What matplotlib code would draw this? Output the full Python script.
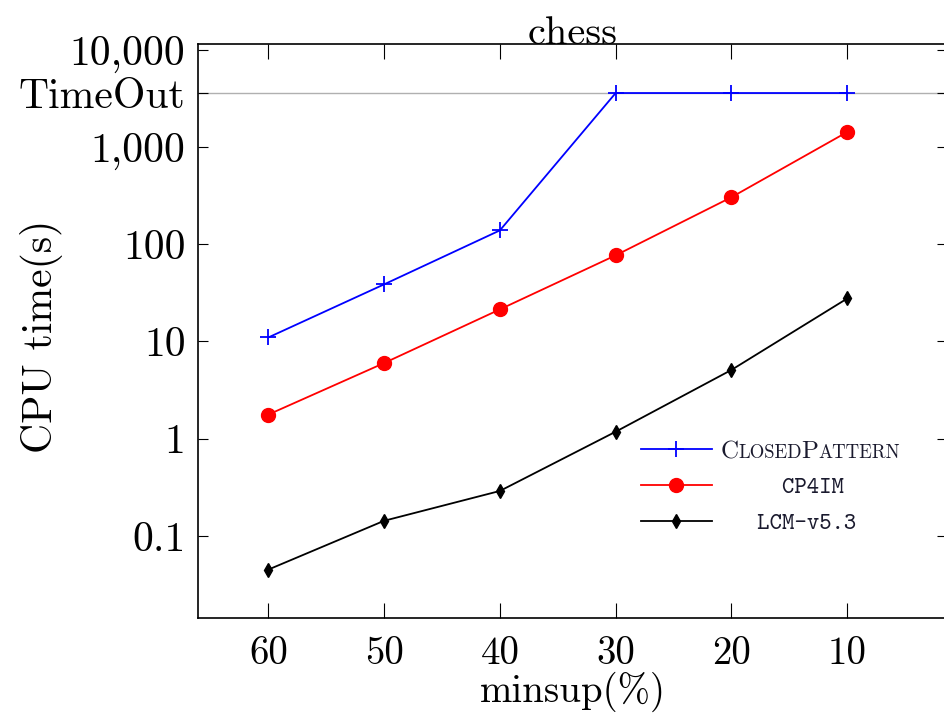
import matplotlib
matplotlib.use("Agg")
import matplotlib.pyplot as plt
from matplotlib.ticker import FixedLocator, FixedFormatter, NullLocator
from matplotlib.offsetbox import TextArea, HPacker, AnnotationBbox

minsup = [60, 50, 40, 30, 20, 10]
closed_pattern = [11, 38.7, 139, 3600, 3600, 3600]
cp4im = [1.77, 6.0, 21.4, 77, 305, 1430]
lcm = [0.045, 0.143, 0.29, 1.18, 5.1, 27.7]
timeout = 3600
ytick_vals = [0.1, 1, 10, 100, 1000, 3600, 10000]
ytick_labels = ["0.1", "1", "10", "100", "1,000", "TimeOut", "10,000"]
xtick_vals = [60, 50, 40, 30, 20, 10]
# small-caps pieces for the ClosedPattern label: (text, is_capital)
closed_label_parts = [("C", True), ("LOSED", False), ("P", True), ("ATTERN", False)]

plt.rcParams['font.family'] = ['cmr10', 'DejaVu Serif']
plt.rcParams['mathtext.fontset'] = 'cm'
plt.rcParams['axes.unicode_minus'] = False

fig = plt.figure(figsize=(9.44, 7.22), dpi=100)
ax = fig.add_axes([198/944, 1 - 618/722, (944 - 198)/944 + 0.003, (618 - 44)/722])

ax.axhline(timeout, color='#b0b0b0', lw=1.0, zorder=1)
ax.plot(minsup, closed_pattern, color='blue', lw=1.3, marker='+', ms=11, mew=1.3,
        label=' ' * 14, zorder=3)
ax.plot(minsup, cp4im, color='red', lw=1.3, marker='o', ms=10,
        label='     CP4IM', zorder=3)
ax.plot(minsup, lcm, color='black', lw=1.3, marker='d', ms=7,
        label='   LCM-v5.3', zorder=3)

ax.set_yscale('log')
ax.set_ylim(0.0143, 11500)
ax.set_xlim(66.07, 1.4)
ax.yaxis.set_major_locator(FixedLocator(ytick_vals))
ax.yaxis.set_major_formatter(FixedFormatter(ytick_labels))
ax.yaxis.set_minor_locator(NullLocator())
ax.set_xticks(xtick_vals)
ax.set_xticklabels([str(v) for v in xtick_vals])

ax.tick_params(axis='x', direction='in', length=11, width=0.8, top=True, labelsize=28, pad=13)
ax.tick_params(axis='y', direction='in', length=7, width=0.8, right=True, labelsize=30, pad=9)
for s in ax.spines.values():
    s.set_linewidth(1.2)

ax.set_title('chess', fontsize=29, pad=0)
ax.set_xlabel('minsup(%)', fontsize=28, labelpad=0)
ax.set_ylabel('CPU time(s)', fontsize=30)
ax.yaxis.set_label_coords(-0.18, 0.49)

leg = ax.legend(loc='lower right', bbox_to_anchor=(0.957, 0.107), frameon=False,
                handlelength=3.0, handletextpad=0.35, labelspacing=0.58,
                prop={'family': ['cmtt10', 'DejaVu Sans Mono'], 'size': 17})
for t in leg.get_texts():
    t.set_color('#1a1a2e')

fig.canvas.draw()
renderer = fig.canvas.get_renderer()
bb = leg.get_texts()[0].get_window_extent(renderer)
areas = [TextArea(txt, textprops=dict(family='cmr10', size=18 if cap else 13.5, color='#1a1a2e'))
         for txt, cap in closed_label_parts]
packer = HPacker(children=areas, align='baseline', pad=0, sep=0)
ab = AnnotationBbox(packer, (bb.x0, (bb.y0 + bb.y1) / 2), xycoords='figure pixels',
                    box_alignment=(0, 0.5), frameon=False, pad=0)
fig.add_artist(ab)

fig.savefig('out.png', dpi=100)
